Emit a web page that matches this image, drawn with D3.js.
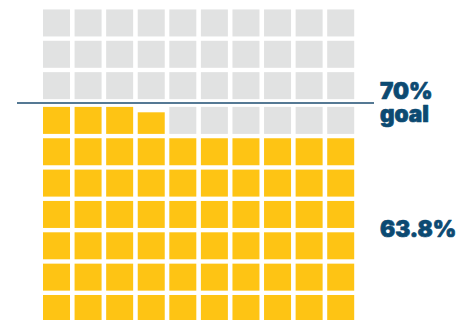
<!DOCTYPE html>
<html>
<head>
<meta charset="utf-8">
<script src="https://cdn.jsdelivr.net/npm/d3@7"></script>
<style>
html,body{margin:0;padding:0;background:#fff;}
svg{display:block;}
</style>
</head>
<body>
<svg id="chart" width="469" height="320"></svg>
<script>
// Data
const totalCells = 100;
const columns = 10;
const rows = 10;
const actualValue = 63.8;   // percent
const goalValue = 70;       // percent
const goalLabel = ["70%", "goal"];
const actualLabel = "63.8%";

const colors = { filled: "#fec414", empty: "#e1e2e2", text: "#0c4a72", line: "#1d4d70" };

const svg = d3.select("#chart");

const cellSize = 27;
const gap = 3.4; // extra gap at goal line
const x = d3.scaleLinear().domain([0, columns - 1]).range([43, 327.2]);
const rowStep = 31.35;
const yBase = d3.scaleLinear().domain([0, rows - 1]).range([295, 295 - (rows - 1) * rowStep]);
const goalRow = goalValue / columns;
const yTop = k => yBase(k) - (k >= goalRow ? gap : 0);

const cells = d3.range(totalCells).map(i => {
  const k = Math.floor(i / columns);
  const c = i % columns;
  const fill = Math.max(0, Math.min(1, actualValue - i));
  return { i, k, c, fill };
});

const g = svg.append("g");
g.selectAll("rect.empty").data(cells.filter(d => d.fill === 0)).join("rect")
  .attr("class", "empty")
  .attr("x", d => x(d.c)).attr("y", d => yTop(d.k))
  .attr("width", cellSize).attr("height", cellSize)
  .attr("fill", colors.empty);
g.selectAll("rect.full").data(cells.filter(d => d.fill > 0)).join("rect")
  .attr("class", "full")
  .attr("x", d => x(d.c)).attr("y", d => yTop(d.k) + cellSize * (1 - d.fill))
  .attr("width", cellSize).attr("height", d => cellSize * d.fill)
  .attr("fill", colors.filled);

const lineY = (yTop(goalRow - 1) + yTop(goalRow) + cellSize) / 2;
svg.append("line")
  .attr("x1", 17).attr("x2", 374)
  .attr("y1", lineY).attr("y2", lineY)
  .attr("stroke", colors.line).attr("stroke-width", 1.6);

const font = "Inter, Lato, sans-serif";
const txt = sel => sel.attr("fill", colors.text)
  .attr("stroke", colors.text).attr("stroke-width", 0.7).attr("stroke-linejoin", "round")
  .attr("font-family", font).attr("font-weight", 900).attr("font-size", 22.5);

goalLabel.forEach((t, i) => {
  svg.append("text")
    .attr("x", 380).attr("y", 99 + i * 22.5)
    .call(txt)
    .text(t);
});

svg.append("text")
  .attr("x", 380).attr("y", 237)
  .call(txt)
  .text(actualLabel);
</script>
</body>
</html>
